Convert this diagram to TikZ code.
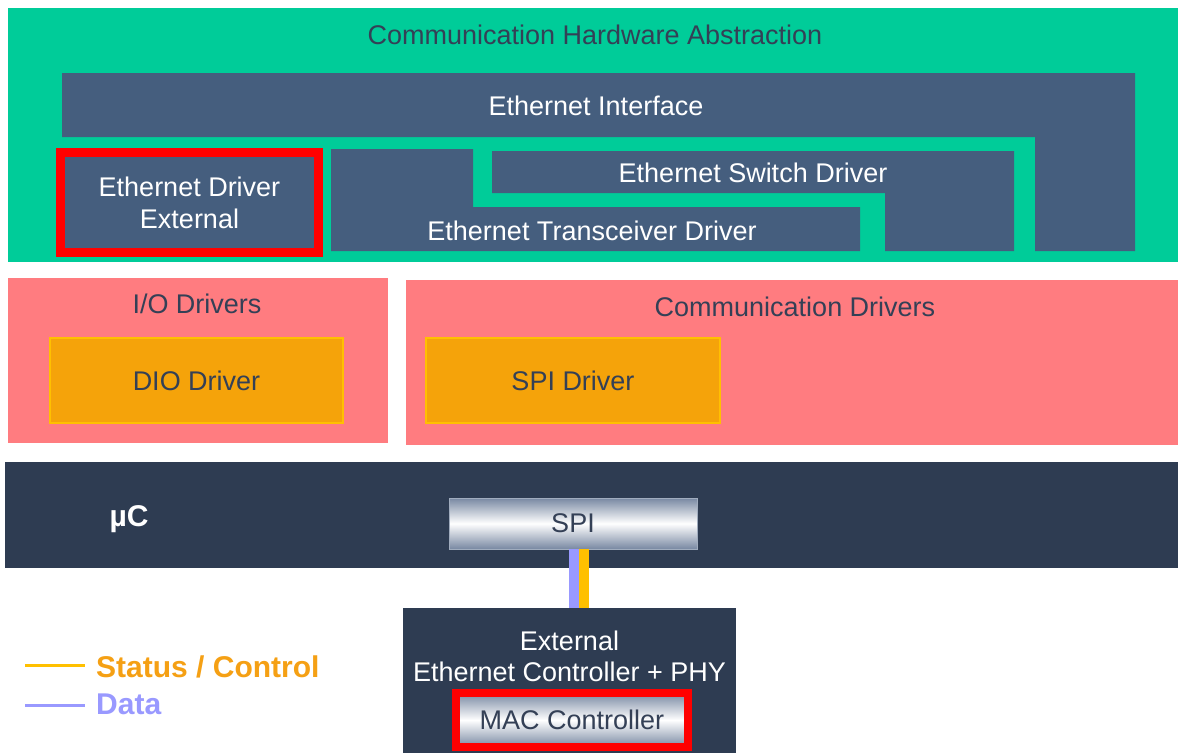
\documentclass[tikz,border=0pt]{standalone}
\usepackage{fontspec}
\setmainfont{Liberation Sans}
\usetikzlibrary{positioning}

\definecolor{hwgreen}{RGB}{0,204,153}
\definecolor{ethblue}{RGB}{69,94,126}
\definecolor{ucdark}{RGB}{46,60,82}
\definecolor{drvpink}{RGB}{255,124,128}
\definecolor{drvorange}{RGB}{245,163,10}
\definecolor{drvyellow}{RGB}{255,192,0}
\definecolor{txtdark}{RGB}{52,64,86}
\definecolor{statorange}{RGB}{245,160,20}
\definecolor{datapurple}{RGB}{153,153,255}
\definecolor{hilite}{RGB}{255,0,0}
\definecolor{spiedge}{RGB}{120,136,162}

\begin{document}
\begin{tikzpicture}[
  x=1pt, y=-1pt,
  font=\fontsize{27}{32}\selectfont,
  layer/.style={rectangle, inner sep=0pt, draw=none},
  ethbox/.style={layer, fill=ethblue, text=white, align=center},
  drvbox/.style={layer, fill=drvorange, draw=drvyellow, line width=2pt, text=txtdark},
  hwbox/.style={layer, draw=spiedge!70, line width=0.5pt, text=txtdark,
                top color=spiedge, bottom color=spiedge, middle color=white},
  redframe/.style={draw=hilite, line width=8.5pt},
  darktext/.style={text=txtdark, inner sep=0pt},
  whitetext/.style={text=white, inner sep=0pt, align=center},
  legline/.style={line width=3pt},
  legtext/.style={font=\fontsize{30}{34}\selectfont\bfseries, inner sep=0pt, anchor=west},
]
\useasboundingbox (0,0) rectangle (1178,753);
\fill[white] (0,0) rectangle (1178,753);

\node[layer, fill=hwgreen, minimum width=1170pt, minimum height=254pt, anchor=north west] (cha) at (8,8) {};
\node[darktext] (chatitle) at (595,35) {Communication Hardware Abstraction};

\fill[ethblue] (62,73) -- (1135,73) -- (1135,251) -- (1035,251) -- (1035,137) -- (62,137) -- cycle;
\node[whitetext] (ethif) at (596,106) {Ethernet Interface};

\fill[ethblue] (331,149) -- (473,149) -- (473,207) -- (860,207) -- (860,251) -- (331,251) -- cycle;
\node[whitetext] (ethtrcv) at (592,231) {Ethernet Transceiver Driver};

\fill[ethblue] (492,151) -- (1014,151) -- (1014,251) -- (885,251) -- (885,193) -- (492,193) -- cycle;
\node[whitetext] (ethswt) at (753,173) {Ethernet Switch Driver};

\node[ethbox, redframe, minimum width=258pt, minimum height=100pt,
      font=\fontsize{27}{32}\selectfont] (ethext) at (189.5,202.5) {Ethernet Driver\\External};

\node[layer, fill=drvpink, minimum width=380pt, minimum height=165pt] (iodrv) at (198,360.5) {};
\node[darktext] (iotitle) at (197,304) {I/O Drivers};
\node[drvbox, minimum width=293pt, minimum height=85pt] (dio) at (196.5,380.5) {DIO Driver};

\node[layer, fill=drvpink, minimum width=772pt, minimum height=165pt] (comdrv) at (792,362.5) {};
\node[darktext] (comtitle) at (795,307) {Communication Drivers};
\node[drvbox, minimum width=294pt, minimum height=85pt] (spidrv) at (573,380.5) {SPI Driver};

\node[layer, fill=ucdark, minimum width=1173pt, minimum height=106pt] (uc) at (591.5,515) {};
\node[whitetext, font=\fontsize{30}{34}\selectfont\bfseries] (uclabel) at (129,519) {µC};
\node[hwbox, minimum width=248pt, minimum height=51pt] (spi) at (573,523.5) {SPI};

\node[layer, fill=ucdark, minimum width=333pt, minimum height=145pt] (ectrl) at (569.5,680.5) {};
\node[whitetext, font=\fontsize{27}{31}\selectfont] (ectrltext) at (569.5,656) {External\\Ethernet Controller + PHY};
\node[hwbox, redframe, minimum width=232pt, minimum height=54pt] (mac) at (572,720) {MAC Controller};

\draw[datapurple, line width=10pt] ([xshift=1pt]spi.south) -- ([xshift=1pt]spi.south |- ectrl.north);
\draw[drvyellow, line width=10pt] ([xshift=11pt]spi.south) -- ([xshift=11pt]spi.south |- ectrl.north);

\coordinate (statA) at (25,665);
\coordinate (statB) at (85,665);
\coordinate (dataA) at (25,705);
\coordinate (dataB) at (85,705);
\draw[legline, drvyellow] (statA) -- (statB);
\draw[legline, datapurple] (dataA) -- (dataB);
\node[legtext, text=statorange] (statlabel) at (96,667) {Status / Control};
\node[legtext, text=datapurple] (datalabel) at (96,704) {Data};
\end{tikzpicture}
\end{document}
